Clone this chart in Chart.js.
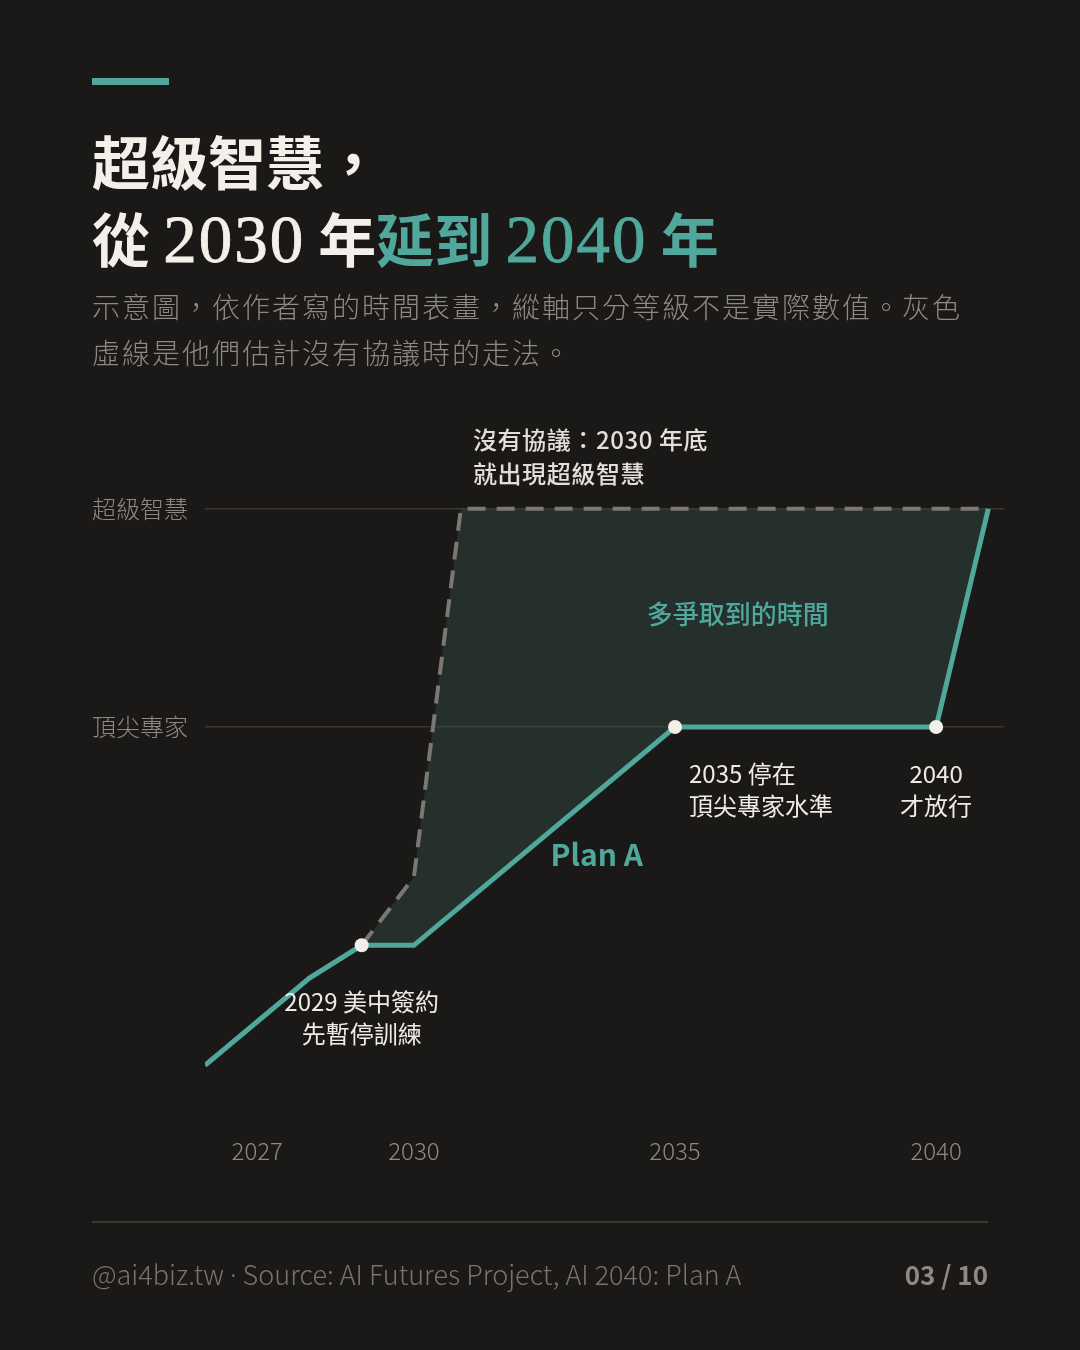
<!DOCTYPE html>
<html><head><meta charset="utf-8">
<script src="https://cdn.jsdelivr.net/npm/chart.js@4.4.1/dist/chart.umd.min.js"></script>
<style>
html,body{margin:0;padding:0;background:#1b1917;}
body{width:1080px;height:1350px;position:relative;overflow:hidden;font-family:"Noto Sans CJK TC","Noto Sans",sans-serif;}
#c{position:absolute;left:0;top:0;width:1080px;height:1350px;}
.bar{position:absolute;left:92px;top:78px;width:77px;height:7px;background:#4fa89b;}
.title{position:absolute;left:92px;top:122px;font-size:58px;font-weight:700;color:#f3f0ea;line-height:77px;font-family:"Noto Sans CJK TC",serif;white-space:nowrap;}
.title .num{font-family:"Liberation Serif",serif;font-weight:400;font-size:67px;letter-spacing:2px;-webkit-text-stroke:0.8px currentColor;}
.title .hl{color:#4fa89b;}
.sub{position:absolute;left:92px;top:283px;width:960px;font-size:28px;font-weight:300;color:#8d8984;line-height:46px;letter-spacing:2px;white-space:nowrap;}
.rule{position:absolute;left:92px;top:1221px;width:896px;height:2px;background:#3a3835;}
.foot{position:absolute;left:92px;top:1256px;font-size:27px;font-weight:300;color:#77736e;line-height:36px;font-family:"Noto Sans CJK TC",sans-serif;white-space:nowrap;}
.foot .dot{font-family:"Noto Sans",sans-serif;}
.page{position:absolute;right:92px;top:1256px;font-size:26px;font-weight:700;color:#8d8984;line-height:36px;}
</style></head>
<body>
<canvas id="c" width="1080" height="1350"></canvas>
<div class="bar"></div>
<div class="title">超級智慧，<br>從 <span class="num">2030</span> 年<span class="hl">延到 <span class="num">2040</span> 年</span></div>
<div class="sub">示意圖，依作者寫的時間表畫，縱軸只分等級不是實際數值。灰色<br>虛線是他們估計沒有協議時的走法。</div>
<div class="rule"></div>
<div class="foot">@ai4biz.tw <span class="dot">·</span> Source: AI Futures Project, AI 2040: Plan A</div>
<div class="page">03 / 10</div>
<script>
// ---- data ----
const planAYears  = [2026, 2028, 2029, 2030, 2035, 2040, 2041];
const planALevel  = [-0.2, 1.4, 2, 2, 6, 6, 10];
const noDealYears = [2029, 2030, 2030.9, 2041];
const noDealLevel = [2, 3.25, 10, 10];
const xTickYears  = [2027, 2030, 2035, 2040];
const yTickValues = [6, 10];
const yTickLabels = {6: '頂尖專家', 10: '超級智慧'};

const TEAL = '#4fa89b';
const annotations = [
  {x: 2030.9, y: 10, dx: 12, dy: -69, lh: 34, align: 'left', color: '#e2dfd8', font: '500 24px "Noto Sans CJK TC"', ls: '0.6px', lines: ['沒有協議：2030 年底', '就出現超級智慧']},
  {x: 2036.2, y: 8, dx: 0, dy: -4, lh: 0, align: 'center', color: TEAL, font: '500 26px "Noto Sans CJK TC"', ls: '0px', lines: ['多爭取到的時間']},
  {x: 2033.5, y: 3.6, dx: 0, dy: -3, lh: 0, align: 'center', color: TEAL, font: '700 30px "Noto Sans CJK TC"', ls: '0px', lines: ['Plan A']},
  {x: 2029, y: 2, dx: 0, dy: 57, lh: 32, align: 'center', color: '#eeebe5', font: '400 24px "Noto Sans CJK TC"', ls: '0px', lines: ['2029 美中簽約', '先暫停訓練']},
  {x: 2035, y: 6, dx: 14, dy: 47, lh: 32, align: 'left', color: '#eeebe5', font: '400 24px "Noto Sans CJK TC"', ls: '0px', lines: ['2035 停在', '頂尖專家水準']},
  {x: 2040, y: 6, dx: 0, dy: 47, lh: 32, align: 'center', color: '#eeebe5', font: '400 24px "Noto Sans CJK TC"', ls: '0px', lines: ['2040', '才放行']}
];

const annotPlugin = {
  id: 'annot',
  afterDatasetsDraw(chart) {
    const {ctx, scales: {x, y}} = chart;
    ctx.save();
    ctx.textBaseline = 'middle';
    for (const a of annotations) {
      ctx.font = a.font; ctx.fillStyle = a.color; ctx.textAlign = a.align;
      if ('letterSpacing' in ctx) ctx.letterSpacing = a.ls;
      a.lines.forEach((t, i) => ctx.fillText(t, x.getPixelForValue(a.x) + a.dx, y.getPixelForValue(a.y) + a.dy + i * a.lh));
    }
    ctx.restore();
  }
};

const planA = planAYears.map((v, i) => ({x: v, y: planALevel[i]}));
const noDeal = noDealYears.map((v, i) => ({x: v, y: noDealLevel[i]}));
const dotYears = [2029, 2035, 2040];

new Chart(document.getElementById('c'), {
  type: 'line',
  data: {
    datasets: [
      {
        label: 'Plan A', data: planA, borderColor: TEAL, borderWidth: 5, tension: 0, fill: false,
        pointRadius: ctx => dotYears.includes(planAYears[ctx.dataIndex]) ? 7 : 0,
        pointBackgroundColor: '#f2efe8', pointBorderWidth: 0, borderJoinStyle: 'miter'
      },
      {
        label: '沒有協議', data: noDeal, borderColor: '#7b7873', borderWidth: 4, borderDash: [18, 11], tension: 0,
        pointRadius: 0, fill: {target: 0}, backgroundColor: 'rgba(50,78,72,0.45)'
      }
    ]
  },
  options: {
    responsive: false, animation: false, devicePixelRatio: 1,
    layout: {padding: {left: 92, right: 76, top: 476, bottom: 181}},
    plugins: {legend: {display: false}, tooltip: {enabled: false}},
    scales: {
      x: {
        type: 'linear', min: 2026, max: 2041.3,
        afterBuildTicks: s => { s.ticks = xTickYears.map(v => ({value: v})); },
        afterFit: s => { s.height = 60; },
        grid: {display: false}, border: {display: false},
        ticks: {color: '#8d8984', font: {family: 'Noto Sans CJK TC', size: 24, weight: '300'}, padding: 19, callback: v => String(v), maxRotation: 0}
      },
      y: {
        type: 'linear', min: -1, max: 10.6,
        afterBuildTicks: s => { s.ticks = yTickValues.map(v => ({value: v})); },
        afterFit: s => { s.width = 113; },
        grid: {color: '#3a3733', lineWidth: 1.5, drawTicks: false}, border: {display: false},
        ticks: {color: '#8d8984', font: {family: 'Noto Sans CJK TC', size: 24, weight: '300'}, crossAlign: 'far', callback: v => yTickLabels[v] || ''}
      }
    }
  },
  plugins: [annotPlugin]
});
</script>
</body></html>
